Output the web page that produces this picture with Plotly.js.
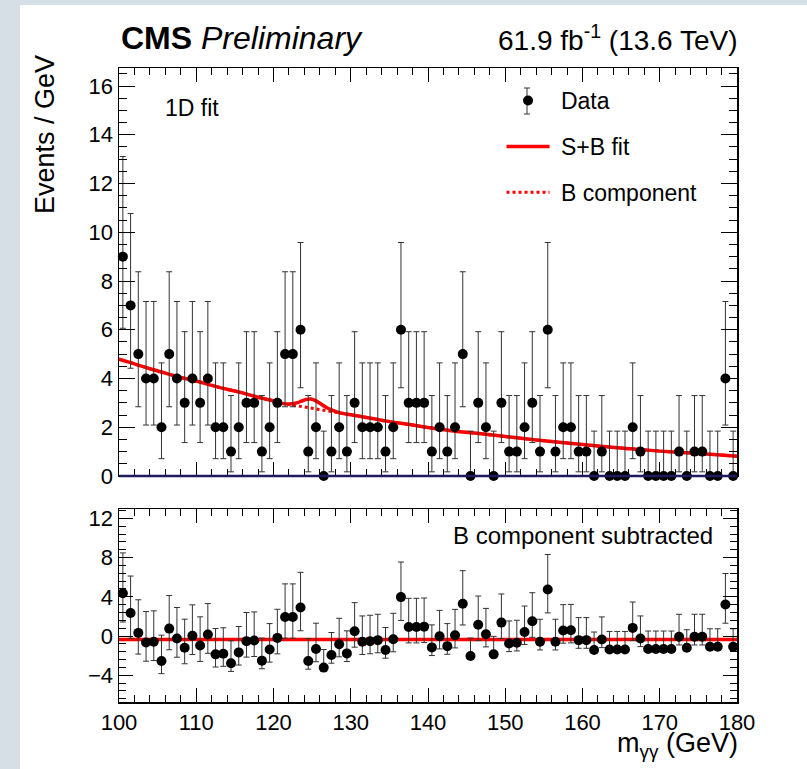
<!DOCTYPE html>
<html>
<head>
<meta charset="utf-8">
<script src="https://cdn.plot.ly/plotly-3.0.1.min.js"></script>
<style>
  html, body { margin: 0; padding: 0; background: #d6dee6; width: 807px; height: 769px; overflow: hidden; }
  #plot { position: absolute; left: 20px; top: 5px; width: 787px; height: 764px; background: #ffffff; }
</style>
</head>
<body>
<div id="plot"></div>
<script>
// Diphoton invariant mass spectrum, 1 GeV bins from 100 to 180 GeV
const binLow = 100;
const binWidth = 1;
const nBins = 80;

// Observed events per bin
const eventCounts = [
  9, 7, 5, 4, 4, 2, 5, 4, 3, 4, 3, 4, 2, 2, 1, 2, 3, 3, 1, 2,
  3, 5, 5, 6, 1, 2, 0, 1, 2, 1, 3, 2, 2, 2, 1, 2, 6, 3, 3, 3,
  1, 2, 1, 2, 5, 0, 3, 2, 0, 3, 1, 1, 2, 3, 1, 6, 1, 2, 2, 1,
  1, 0, 1, 0, 0, 0, 2, 1, 0, 0, 0, 0, 1, 0, 1, 1, 0, 0, 4, 0
];

// Events per bin after subtracting the background component
const bkgSubtracted = [
  4.37, 2.35, 0.32, -0.66, -0.59, -2.55, 0.76, -0.25, -1.20, 0.02,
  -0.96, 0.15, -1.87, -1.80, -2.78, -1.67, -0.52, -0.46, -2.51, -1.37,
  -0.19, 1.94, 1.94, 2.92, -2.55, -1.33, -3.22, -1.94, -0.83, -1.77,
  0.49, -0.59, -0.52, -0.42, -1.43, -0.32, 3.97, 0.93, 0.93, 0.96,
  -1.16, -0.02, -1.03, 0.08, 3.29, -2.04, 1.16, 0.18, -1.87, 1.37,
  -0.76, -0.69, 0.42, 1.50, -0.59, 4.74, -0.59, 0.56, 0.59, -0.42,
  -0.42, -1.43, -0.35, -1.37, -1.37, -1.37, 0.83, -0.25, -1.33, -1.33,
  -1.33, -1.33, -0.08, -1.20, -0.08, -0.08, -1.10, -1.10, 3.22, -1.10
];

// Fitted curves, sampled along the mass axis
const fitMass = [100, 102, 104, 106, 108, 110, 112, 114, 116, 118, 120, 121, 122, 123,
  123.6, 124.2, 124.8, 125.4, 126, 126.8, 127.6, 128.5, 130, 132, 134, 136, 138, 140,
  143, 146, 150, 154, 158, 162, 166, 170, 174, 177, 180];
const sbFit = [4.79, 4.60, 4.40, 4.22, 4.04, 3.90, 3.72, 3.56, 3.41, 3.23, 3.08, 2.99, 2.95, 3.00,
  3.07, 3.14, 3.16, 3.10, 2.98, 2.82, 2.70, 2.60, 2.51, 2.40, 2.29, 2.18, 2.09, 1.99,
  1.86, 1.76, 1.62, 1.48, 1.35, 1.23, 1.12, 1.02, 0.94, 0.88, 0.81];
const bkgFit = [4.79, 4.60, 4.40, 4.22, 4.04, 3.90, 3.72, 3.56, 3.41, 3.23, 3.08, 2.98, 2.93, 2.88,
  2.85, 2.82, 2.79, 2.76, 2.72, 2.68, 2.64, 2.59, 2.51, 2.40, 2.29, 2.18, 2.09, 1.99,
  1.86, 1.76, 1.62, 1.48, 1.35, 1.23, 1.12, 1.02, 0.94, 0.88, 0.81];

// Signal component left after the background subtraction
const sigMass = [100, 180];
const sigFit = [-0.35, -0.35];

// Central 68% Poisson intervals, indexed by observed count
const poissonUp = [1.84, 2.30, 2.64, 2.92, 3.16, 3.38, 3.58, 3.77, 3.95, 4.11];
const poissonDown = [0.00, 0.83, 1.29, 1.63, 1.91, 2.16, 2.38, 2.58, 2.77, 2.94];

const massCenters = Array.from({ length: nBins }, (_, i) => binLow + (i + 0.5) * binWidth);
const errHi = eventCounts.map(n => poissonUp[n]);
const errLo = eventCounts.map(n => poissonDown[n]);

const RED = '#ff0000';
const FONT = "'Liberation Sans', Arial, Helvetica, sans-serif";

const dataStyle = {
  mode: 'markers',
  type: 'scatter',
  cliponaxis: false,
  marker: { color: '#000000', size: 10 },
  error_y: { type: 'data', symmetric: false, array: errHi, arrayminus: errLo,
             color: '#333333', thickness: 1, width: 3 }
};

const traces = [
  { x: fitMass, y: bkgFit, type: 'scatter', mode: 'lines', name: '&nbsp;B component',
    line: { color: RED, width: 3, dash: 'dot', shape: 'spline' },
    xaxis: 'x', yaxis: 'y', legendgroup: 'b', legendrank: 3 },
  { x: fitMass, y: sbFit, type: 'scatter', mode: 'lines', name: '&nbsp;S+B fit',
    line: { color: RED, width: 3.5, shape: 'spline' },
    xaxis: 'x', yaxis: 'y', legendgroup: 'sb', legendrank: 2 },
  Object.assign({}, dataStyle, { x: massCenters, y: eventCounts, name: '&nbsp;Data',
    xaxis: 'x', yaxis: 'y', legendgroup: 'data', legendrank: 1 }),
  { x: sigMass, y: sigFit, type: 'scatter', mode: 'lines', showlegend: false,
    line: { color: RED, width: 3.5 }, xaxis: 'x2', yaxis: 'y2' },
  Object.assign({}, dataStyle, { x: massCenters, y: bkgSubtracted, showlegend: false,
    xaxis: 'x2', yaxis: 'y2' })
];

const axisBase = {
  ticks: 'inside', mirror: 'allticks', showline: true, linecolor: '#000000', linewidth: 1.5,
  tickcolor: '#000000', tickwidth: 1, showgrid: false, zeroline: false,
  tickfont: { size: 22, color: '#000000', family: FONT }, fixedrange: true
};

// Error bar drawn on the "Data" legend symbol
const legendBarX = (527 - 119) / 618;
const legendBarTop = (702 - 88) / 634;
const legendBarBottom = (702 - 114) / 634;
const capHalf = 3 / 618;

const layout = {
  width: 787, height: 764,
  margin: { l: 99, r: 70, t: 63, b: 67 },
  paper_bgcolor: '#ffffff', plot_bgcolor: '#ffffff',
  font: { family: FONT, color: '#000000' },
  showlegend: true,
  legend: { x: 0.619, y: 0.9826, xanchor: 'left', yanchor: 'top', bgcolor: 'rgba(0,0,0,0)',
            font: { size: 23, family: FONT }, traceorder: 'grouped', tracegroupgap: 13,
            itemwidth: 43 },
  xaxis: Object.assign({}, axisBase, { domain: [0, 1], anchor: 'y', range: [100, 180], dtick: 10,
    tick0: 100, ticklen: 14, showticklabels: false,
    minor: { ticks: 'inside', dtick: 2, ticklen: 7, tickcolor: '#000000', showgrid: false } }),
  yaxis: Object.assign({}, axisBase, { domain: [0.3565, 1], anchor: 'x', range: [0, 16.74], dtick: 2,
    tick0: 0, ticklen: 16,
    minor: { ticks: 'inside', dtick: 0.5, ticklen: 8, tickcolor: '#000000', showgrid: false } }),
  xaxis2: Object.assign({}, axisBase, { domain: [0, 1], anchor: 'y2', range: [100, 180], dtick: 10,
    tick0: 100, ticklen: 14,
    minor: { ticks: 'inside', dtick: 2, ticklen: 7, tickcolor: '#000000', showgrid: false } }),
  yaxis2: Object.assign({}, axisBase, { domain: [0, 0.3044], anchor: 'x2', range: [-6.73, 12.96],
    dtick: 4, tick0: 0, ticklen: 14,
    minor: { ticks: 'inside', dtick: 0.8, ticklen: 7, tickcolor: '#000000', showgrid: false } }),
  shapes: [
    { type: 'line', xref: 'x domain', yref: 'y domain', x0: 0, x1: 1, y0: 0, y1: 0,
      line: { color: '#1d1d5c', width: 2.5 }, layer: 'above' },
    { type: 'line', xref: 'paper', yref: 'paper', x0: legendBarX, x1: legendBarX,
      y0: legendBarBottom, y1: legendBarTop, line: { color: '#333333', width: 1 } },
    { type: 'line', xref: 'paper', yref: 'paper', x0: legendBarX - capHalf, x1: legendBarX + capHalf,
      y0: legendBarTop, y1: legendBarTop, line: { color: '#333333', width: 1 } },
    { type: 'line', xref: 'paper', yref: 'paper', x0: legendBarX - capHalf, x1: legendBarX + capHalf,
      y0: legendBarBottom, y1: legendBarBottom, line: { color: '#333333', width: 1 } }
  ],
  annotations: [
    { text: '<b>CMS</b> <i>Preliminary</i>', xref: 'paper', yref: 'paper', x: 0, y: 1.047,
      xanchor: 'left', yanchor: 'middle', showarrow: false, font: { size: 32, family: FONT } },
    { text: '61.9 fb<sup>-1</sup> (13.6 TeV)', xref: 'paper', yref: 'paper', x: 1.005, y: 1.047,
      xanchor: 'right', yanchor: 'middle', showarrow: false, font: { size: 28, family: FONT } },
    { text: '1D fit', xref: 'paper', yref: 'paper', x: 0.0712, y: 0.9369,
      xanchor: 'left', yanchor: 'middle', showarrow: false, font: { size: 23, family: FONT } },
    { text: 'B component subtracted', xref: 'paper', yref: 'paper', x: 0.9644, y: 0.2634,
      xanchor: 'right', yanchor: 'middle', showarrow: false, font: { size: 24, family: FONT } },
    { text: 'Events / GeV', xref: 'paper', yref: 'paper', x: -0.1197, y: 0.8943, textangle: -90,
      xanchor: 'center', yanchor: 'middle', showarrow: false, font: { size: 27, family: FONT } },
    { text: 'm<sub>γγ</sub> (GeV)', xref: 'paper', yref: 'paper', x: 1.005, y: -0.0678,
      xanchor: 'right', yanchor: 'middle', showarrow: false, font: { size: 27, family: FONT } }
  ]
};

Plotly.newPlot('plot', traces, layout, { displayModeBar: false, staticPlot: true });
</script>
</body>
</html>
